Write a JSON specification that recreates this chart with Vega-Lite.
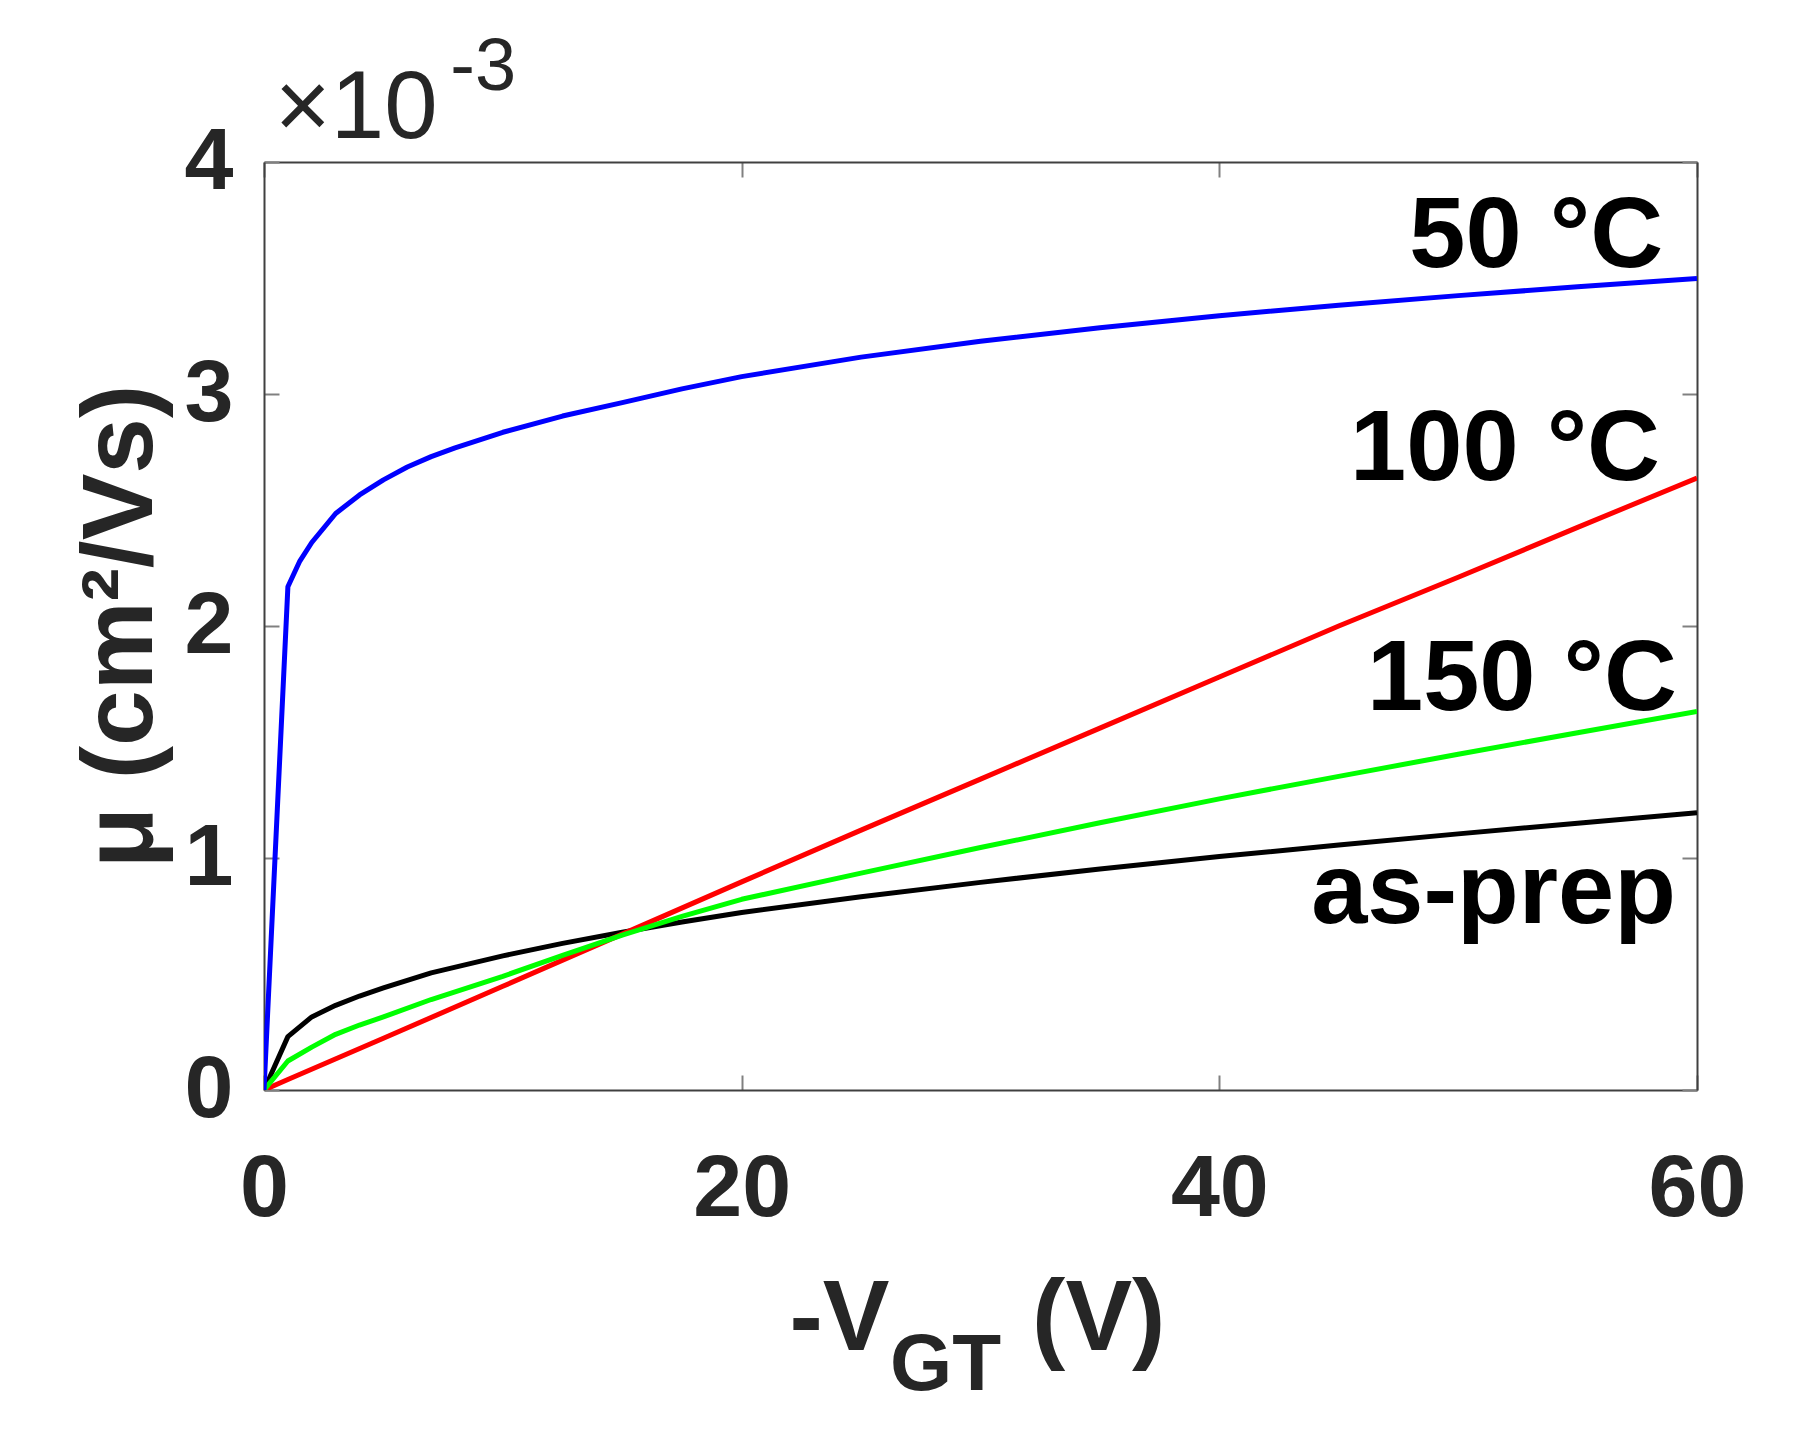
{
  "$schema": "https://vega.github.io/schema/vega-lite/v6.json",
  "width": 1433,
  "height": 928,
  "autosize": {"type": "none"},
  "padding": {"left": 264, "top": 162, "right": 106, "bottom": 346},
  "background": "white",
  "config": {"view": {"stroke": null}, "font": "Liberation Sans"},
  "datasets": {
    "curves": [
      {"sample": "as-prep", "V": 0, "mu": 0},
      {"sample": "as-prep", "V": 1, "mu": 0.00023},
      {"sample": "as-prep", "V": 2, "mu": 0.000315},
      {"sample": "as-prep", "V": 3, "mu": 0.000365},
      {"sample": "as-prep", "V": 4, "mu": 0.000405},
      {"sample": "as-prep", "V": 5, "mu": 0.00044},
      {"sample": "as-prep", "V": 7, "mu": 0.000505},
      {"sample": "as-prep", "V": 10, "mu": 0.000578},
      {"sample": "as-prep", "V": 12.5, "mu": 0.000632},
      {"sample": "as-prep", "V": 15, "mu": 0.00068},
      {"sample": "as-prep", "V": 17.5, "mu": 0.000724},
      {"sample": "as-prep", "V": 20, "mu": 0.000765},
      {"sample": "as-prep", "V": 25, "mu": 0.000833},
      {"sample": "as-prep", "V": 30, "mu": 0.000895},
      {"sample": "as-prep", "V": 35, "mu": 0.000953},
      {"sample": "as-prep", "V": 40, "mu": 0.001006},
      {"sample": "as-prep", "V": 45, "mu": 0.001056},
      {"sample": "as-prep", "V": 50, "mu": 0.001104},
      {"sample": "as-prep", "V": 55, "mu": 0.00115},
      {"sample": "as-prep", "V": 60, "mu": 0.001195},
      {"sample": "100 °C", "V": 0, "mu": 0},
      {"sample": "100 °C", "V": 1, "mu": 0.000045},
      {"sample": "100 °C", "V": 5, "mu": 0.000223},
      {"sample": "100 °C", "V": 10, "mu": 0.000447},
      {"sample": "100 °C", "V": 15, "mu": 0.000672},
      {"sample": "100 °C", "V": 20, "mu": 0.000897},
      {"sample": "100 °C", "V": 25, "mu": 0.00112},
      {"sample": "100 °C", "V": 30, "mu": 0.00134},
      {"sample": "100 °C", "V": 35, "mu": 0.00156},
      {"sample": "100 °C", "V": 40, "mu": 0.00178},
      {"sample": "100 °C", "V": 45, "mu": 0.002},
      {"sample": "100 °C", "V": 50, "mu": 0.00221},
      {"sample": "100 °C", "V": 55, "mu": 0.002425},
      {"sample": "100 °C", "V": 60, "mu": 0.002638},
      {"sample": "150 °C", "V": 0, "mu": 0},
      {"sample": "150 °C", "V": 1, "mu": 0.000125},
      {"sample": "150 °C", "V": 2, "mu": 0.000185},
      {"sample": "150 °C", "V": 3, "mu": 0.00024},
      {"sample": "150 °C", "V": 4, "mu": 0.00028},
      {"sample": "150 °C", "V": 5, "mu": 0.000315},
      {"sample": "150 °C", "V": 7, "mu": 0.00039},
      {"sample": "150 °C", "V": 10, "mu": 0.00049},
      {"sample": "150 °C", "V": 12.5, "mu": 0.00058},
      {"sample": "150 °C", "V": 15, "mu": 0.000668},
      {"sample": "150 °C", "V": 17.5, "mu": 0.000748},
      {"sample": "150 °C", "V": 20, "mu": 0.000822},
      {"sample": "150 °C", "V": 25, "mu": 0.000935},
      {"sample": "150 °C", "V": 30, "mu": 0.001045},
      {"sample": "150 °C", "V": 35, "mu": 0.001152},
      {"sample": "150 °C", "V": 40, "mu": 0.001255},
      {"sample": "150 °C", "V": 45, "mu": 0.001352},
      {"sample": "150 °C", "V": 50, "mu": 0.001447},
      {"sample": "150 °C", "V": 55, "mu": 0.00154},
      {"sample": "150 °C", "V": 60, "mu": 0.001632},
      {"sample": "50 °C", "V": 0, "mu": 0},
      {"sample": "50 °C", "V": 1, "mu": 0.002169},
      {"sample": "50 °C", "V": 1.5, "mu": 0.00228},
      {"sample": "50 °C", "V": 2, "mu": 0.00236},
      {"sample": "50 °C", "V": 3, "mu": 0.002485},
      {"sample": "50 °C", "V": 4, "mu": 0.002565},
      {"sample": "50 °C", "V": 5, "mu": 0.00263},
      {"sample": "50 °C", "V": 6, "mu": 0.002685},
      {"sample": "50 °C", "V": 7, "mu": 0.00273},
      {"sample": "50 °C", "V": 8, "mu": 0.002768},
      {"sample": "50 °C", "V": 10, "mu": 0.002835},
      {"sample": "50 °C", "V": 12.5, "mu": 0.002905},
      {"sample": "50 °C", "V": 15, "mu": 0.002963},
      {"sample": "50 °C", "V": 17.5, "mu": 0.003022},
      {"sample": "50 °C", "V": 20, "mu": 0.003075},
      {"sample": "50 °C", "V": 25, "mu": 0.003159},
      {"sample": "50 °C", "V": 30, "mu": 0.003227},
      {"sample": "50 °C", "V": 35, "mu": 0.003286},
      {"sample": "50 °C", "V": 40, "mu": 0.003337},
      {"sample": "50 °C", "V": 45, "mu": 0.003383},
      {"sample": "50 °C", "V": 50, "mu": 0.003424},
      {"sample": "50 °C", "V": 55, "mu": 0.003462},
      {"sample": "50 °C", "V": 60, "mu": 0.003498}
    ],
    "labels": [
      {"label": "50 °C", "V": 58.58, "mu": 0.003547},
      {"label": "100 °C", "V": 58.45, "mu": 0.002629},
      {"label": "150 °C", "V": 59.16, "mu": 0.001638},
      {"label": "as-prep", "V": 59.12, "mu": 0.00072}
    ],
    "xtitle": [
      {"t": "-V", "V": 22.0, "mu": -0.001121},
      {"t": "(V)", "V": 32.16, "mu": -0.001121}
    ],
    "xsub": [
      {"t": "GT", "V": 26.21, "mu": -0.001293}
    ],
    "expo": [
      {"t": "×10", "V": 0.45, "mu": 0.004103}
    ],
    "exposup": [
      {"t": "-3", "V": 7.8, "mu": 0.00431}
    ]
  },
  "layer": [
    {
      "data": {"name": "curves"},
      "mark": {"type": "line", "strokeWidth": 5, "strokeJoin": "round", "clip": true},
      "encoding": {
        "x": {
          "field": "V", "type": "quantitative",
          "scale": {"domain": [0, 60], "nice": false, "zero": false},
          "axis": {
            "orient": "bottom", "values": [0, 20, 40, 60], "title": null, "grid": false,
            "domainColor": "#404040", "domainWidth": 2,
            "tickColor": "#808080", "tickWidth": 2, "tickSize": -15,
            "labelPadding": 70, "labelFont": "Liberation Sans", "labelFontSize": 88,
            "labelFontWeight": "bold", "labelColor": "#262626",
            "labelFlush": false, "labelOverlap": false, "labelBound": false
          }
        },
        "y": {
          "field": "mu", "type": "quantitative",
          "scale": {"domain": [0, 0.004], "nice": false, "zero": false},
          "axis": {
            "orient": "left", "values": [0, 0.001, 0.002, 0.003, 0.004], "grid": false,
            "labelExpr": "format(datum.value*1000, 'd')",
            "domainColor": "#404040", "domainWidth": 2,
            "tickColor": "#808080", "tickWidth": 2, "tickSize": -15,
            "labelPadding": 46, "labelFont": "Liberation Sans", "labelFontSize": 88,
            "labelFontWeight": "bold", "labelColor": "#262626",
            "labelAlign": "right", "labelBaseline": "middle",
            "labelFlush": false, "labelOverlap": false, "labelBound": false,
            "title": "μ (cm²/Vs)", "titleFont": "Liberation Sans", "titleFontSize": 100,
            "titleFontWeight": "bold", "titleColor": "#262626", "titlePadding": 12
          }
        },
        "color": {
          "field": "sample", "type": "nominal",
          "scale": {"domain": ["50 °C", "100 °C", "150 °C", "as-prep"], "range": ["#0000ff", "#ff0000", "#00ff00", "#000000"]},
          "legend": null
        }
      }
    },
    {
      "data": {"name": "labels"},
      "mark": {"type": "text", "align": "right", "baseline": "alphabetic", "fontSize": 101, "fontWeight": "bold", "font": "Liberation Sans", "color": "#000000"},
      "encoding": {
        "x": {
          "field": "V", "type": "quantitative",
          "scale": {"domain": [0, 60], "nice": false, "zero": false},
          "axis": {
            "orient": "top", "values": [0, 20, 40, 60], "title": null, "grid": false, "labels": false,
            "domainColor": "#404040", "domainWidth": 2,
            "tickColor": "#808080", "tickWidth": 2, "tickSize": -15
          }
        },
        "y": {
          "field": "mu", "type": "quantitative",
          "scale": {"domain": [0, 0.004], "nice": false, "zero": false},
          "axis": {
            "orient": "right", "values": [0, 0.001, 0.002, 0.003, 0.004], "title": null, "grid": false, "labels": false,
            "domainColor": "#404040", "domainWidth": 2,
            "tickColor": "#808080", "tickWidth": 2, "tickSize": -15
          }
        },
        "text": {"field": "label", "type": "nominal"}
      }
    },
    {
      "data": {"name": "xtitle"},
      "mark": {"type": "text", "align": "left", "baseline": "alphabetic", "fontSize": 100, "fontWeight": "bold", "font": "Liberation Sans", "color": "#262626"},
      "encoding": {
        "x": {"field": "V", "type": "quantitative", "scale": {"domain": [0, 60], "nice": false, "zero": false}, "axis": null},
        "y": {"field": "mu", "type": "quantitative", "scale": {"domain": [0, 0.004], "nice": false, "zero": false}, "axis": null},
        "text": {"field": "t", "type": "nominal"}
      }
    },
    {
      "data": {"name": "xsub"},
      "mark": {"type": "text", "align": "left", "baseline": "alphabetic", "fontSize": 80, "fontWeight": "bold", "font": "Liberation Sans", "color": "#262626"},
      "encoding": {
        "x": {"field": "V", "type": "quantitative", "scale": {"domain": [0, 60], "nice": false, "zero": false}, "axis": null},
        "y": {"field": "mu", "type": "quantitative", "scale": {"domain": [0, 0.004], "nice": false, "zero": false}, "axis": null},
        "text": {"field": "t", "type": "nominal"}
      }
    },
    {
      "data": {"name": "expo"},
      "mark": {"type": "text", "align": "left", "baseline": "alphabetic", "fontSize": 96, "fontWeight": "normal", "font": "Liberation Sans", "color": "#262626"},
      "encoding": {
        "x": {"field": "V", "type": "quantitative", "scale": {"domain": [0, 60], "nice": false, "zero": false}, "axis": null},
        "y": {"field": "mu", "type": "quantitative", "scale": {"domain": [0, 0.004], "nice": false, "zero": false}, "axis": null},
        "text": {"field": "t", "type": "nominal"}
      }
    },
    {
      "data": {"name": "exposup"},
      "mark": {"type": "text", "align": "left", "baseline": "alphabetic", "fontSize": 74, "fontWeight": "normal", "font": "Liberation Sans", "color": "#262626"},
      "encoding": {
        "x": {"field": "V", "type": "quantitative", "scale": {"domain": [0, 60], "nice": false, "zero": false}, "axis": null},
        "y": {"field": "mu", "type": "quantitative", "scale": {"domain": [0, 0.004], "nice": false, "zero": false}, "axis": null},
        "text": {"field": "t", "type": "nominal"}
      }
    }
  ],
  "resolve": {"axis": {"x": "independent", "y": "independent"}}
}
